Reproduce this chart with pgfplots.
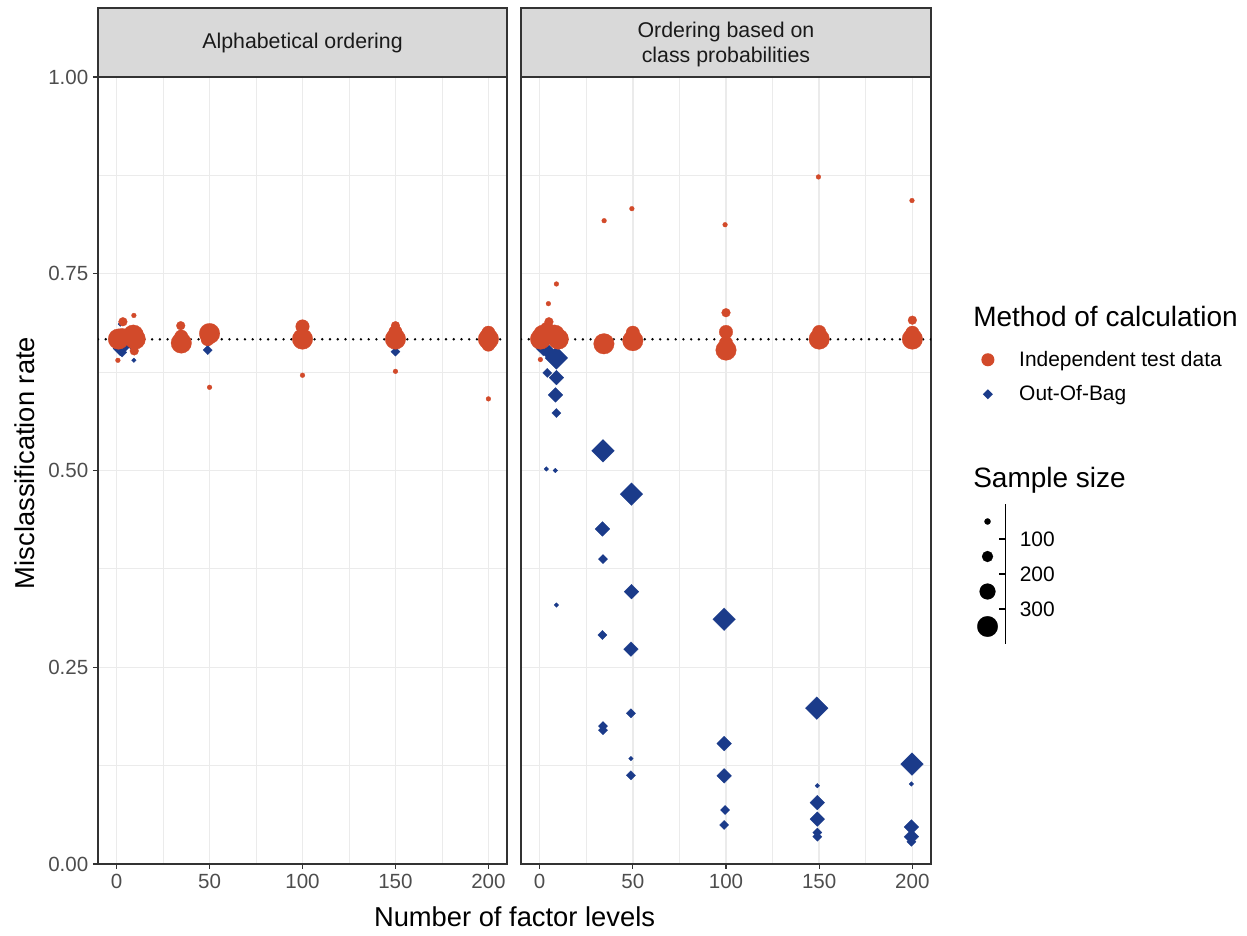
\documentclass[border=0pt]{standalone}
\usepackage{fontspec}
\setmainfont{Liberation Sans}
\usepackage{pgfplots}
\usepackage{pgfplotstable}
\pgfplotsset{compat=1.18}

\definecolor{ored}{RGB}{210,74,42}
\definecolor{oblue}{RGB}{27,59,138}
\definecolor{gridc}{RGB}{235,235,235}
\definecolor{axc}{RGB}{51,51,51}
\definecolor{tickc}{RGB}{77,77,77}
\definecolor{stripc}{RGB}{217,217,217}

% x = number of factor levels, y = misclassification rate, n = sample size
\pgfplotstableread{
x y n
0 0.667 205
2 0.655 205
3 0.650 105
5 0.658 105
6 0.663 105
8 0.659 105
9.3 0.640 22
2 0.686 22
34.5 0.676 22
49 0.653 105
49 0.660 22
100 0.663 22
150 0.651 105
200 0.664 22
}\alphaOOB

\pgfplotstableread{
x y n
1 0.667 350
3 0.672 205
3.4 0.689 105
9 0.672 350
10 0.667 350
9.3 0.697 22
0.7 0.640 22
9.5 0.652 105
34.8 0.662 350
34.8 0.670 205
34.5 0.684 105
50 0.674 350
49 0.667 205
50 0.6057 22
100 0.683 205
100 0.672 205
100 0.667 350
100 0.621 22
150 0.684 105
150 0.676 205
150 0.667 350
150 0.626 22
200 0.667 350
200 0.675 205
200 0.660 205
200 0.591 22
}\alphaTest

\pgfplotstableread{
x y n
0 0.660 205
2 0.655 205
5 0.650 205
3 0.665 105
9 0.643 350
4.1 0.624 105
9 0.618 205
8.5 0.596 205
9 0.573 105
3.6 0.502 22
8.4 0.500 22
9 0.329 22
34 0.525 350
33.7 0.4257 205
34 0.3875 105
33.7 0.291 105
34 0.1753 105
34 0.170 105
49.3 0.470 350
49.3 0.346 205
49 0.273 205
49 0.1915 105
49 0.134 22
49 0.1127 105
99 0.311 350
99 0.153 205
99 0.112 205
99.5 0.0686 105
99 0.0496 105
148.7 0.198 350
149 0.0995 22
149 0.078 205
149 0.057 205
149 0.040 105
149 0.0347 105
199.8 0.127 350
199.5 0.1017 22
199.5 0.047 205
199.5 0.0347 205
199.5 0.0283 105
}\probOOB

\pgfplotstableread{
x y n
0.5 0.667 350
2 0.672 350
8 0.672 350
10 0.667 350
4 0.680 205
5 0.689 105
4.7 0.712 22
9 0.737 22
0.4 0.641 22
34.5 0.661 350
34.6 0.8174 22
50 0.665 350
50 0.675 205
49.5 0.8327 22
100 0.653 350
100 0.662 205
100 0.676 205
100 0.7005 105
99.5 0.8123 22
150 0.667 350
150 0.676 205
149.6 0.873 22
200 0.667 350
200 0.675 205
200 0.691 105
199.8 0.843 22
}\probTest

\pgfplotstableread{
x y n
0.49 50 50
0.49 150 150
0.49 250 250
0.49 350 350
}\sizekeys

\pgfplotsset{
  redpts/.style={scatter, only marks, mark=*, ored,
    scatter/use mapped color={draw=ored, fill=ored},
    mark options={line width=0.2pt},
    visualization depends on={1.4+0.018*\thisrow{n} \as \msize},
    scatter/@pre marker code/.append style={/tikz/mark size=\msize}},
  bluepts/.style={scatter, only marks, mark=square*, oblue,
    scatter/use mapped color={draw=oblue, fill=oblue},
    mark options={rotate=45, line width=0.2pt},
    visualization depends on={0.9+0.0146*\thisrow{n} \as \msize},
    scatter/@pre marker code/.append style={/tikz/mark size=\msize}},
  blackpts/.style={scatter, only marks, mark=*, black,
    scatter/use mapped color={draw=black, fill=black},
    mark options={line width=0.2pt},
    visualization depends on={1.4+0.018*\thisrow{n} \as \msize},
    scatter/@pre marker code/.append style={/tikz/mark size=\msize}},
  refline/.style={black, line width=2pt, line cap=round, dash pattern=on 0pt off 5.8pt, forget plot},
  panel/.style={
    scale only axis, height=590.25pt,
    xmin=-10, xmax=210, ymin=0, ymax=1,
    xtick={0,50,100,150,200}, minor xtick={25,75,125,175},
    ytick={0,0.25,0.5,0.75,1}, minor ytick={0.125,0.375,0.625,0.875},
    xmajorgrids, ymajorgrids, xminorgrids, yminorgrids,
    major grid style={draw=gridc, line width=1.1pt},
    minor grid style={draw=gridc, line width=0.6pt},
    axis line style={draw=axc, line width=1.1pt},
    tick align=outside, tick pos=left,
    major tick length=3.75pt, minor tick length=0pt,
    tick style={draw=axc, line width=0.8pt},
    tick label style={font=\fontsize{15.4}{18}\selectfont, text=tickc},
    /pgf/number format/assume math mode=true,
    yticklabel style={/pgf/number format/.cd, fixed, fixed zerofill, precision=2},
  },
}

\begin{document}
\begin{tikzpicture}
\path (0pt,0pt) rectangle (935.25pt,702pt);

% Left panel
\begin{axis}[panel, at={(73.5pt,54pt)}, anchor=south west, width=306.75pt]
\addplot[bluepts] table[x=x,y=y,meta=n] {\alphaOOB};
\addplot[redpts] table[x=x,y=y,meta=n] {\alphaTest};
\addplot[refline] coordinates {(-10,0.6667) (210,0.6667)};
\end{axis}

% Right panel
\begin{axis}[panel, at={(390.75pt,54pt)}, anchor=south west, width=307.5pt,
  ymajorticks=false, yminorticks=false,
  legend style={at={(1.116,0.655)}, anchor=north west, draw=none, fill=none,
    inner sep=0pt, outer sep=0pt, font=\fontsize{15.7}{19}\selectfont,
    cells={anchor=west}, row sep=9pt},
  reverse legend]
\addplot[bluepts, legend image code/.code={\path[draw=none, fill=none] (-7pt,-5pt) rectangle (21.5pt,5pt); \fill[oblue, draw=none, rotate=45] (-2.65pt,-2.65pt) rectangle (2.65pt,2.65pt);}] table[x=x,y=y,meta=n] {\probOOB};
\addlegendentry{Out-Of-Bag}
\addplot[redpts, legend image code/.code={\path[draw=none, fill=none] (-7pt,-5pt) rectangle (21.5pt,5pt); \fill[ored, draw=none] (0pt,0pt) circle (4.9pt);}] table[x=x,y=y,meta=n] {\probTest};
\addlegendentry{Independent test data}
\addplot[refline] coordinates {(-10,0.6667) (210,0.6667)};
\end{axis}

% Size guide
\begin{axis}[at={(727.5pt,219pt)}, anchor=south west, scale only axis,
  width=26.8pt, height=105pt, xmin=0, xmax=1, ymin=0, ymax=400, y dir=reverse,
  axis x line=none, axis y line*=right,
  y axis line style={draw=black, line width=1pt},
  ytick={100,200,300}, tick align=inside, major tick length=4.7pt,
  tick style={draw=black, line width=1pt},
  yticklabel style={font=\fontsize{15.7}{19}\selectfont, text=black, xshift=7pt},
  /pgf/number format/assume math mode=true, clip=false]
\addplot[blackpts] table[x=x,y=y,meta=n] {\sizekeys};
\end{axis}

% Strips
\draw[fill=stripc, draw=axc, line width=1.1pt] (73.5pt,644.25pt) rectangle (380.25pt,696pt);
\draw[fill=stripc, draw=axc, line width=1.1pt] (390.75pt,644.25pt) rectangle (698.25pt,696pt);
\node[font=\fontsize{16}{19}\selectfont, text={rgb,255:red,26;green,26;blue,26}] at (226.9pt,669.75pt) {Alphabetical ordering};
\node[font=\fontsize{16}{19}\selectfont, text={rgb,255:red,26;green,26;blue,26}, align=center] at (544.5pt,668.5pt) {Ordering based on\\class probabilities};

% Axis titles
\node[font=\fontsize{20.5}{24}\selectfont, rotate=90] at (18.75pt,354.75pt) {Misclassification rate};
\node[font=\fontsize{20.5}{24}\selectfont] at (385.9pt,14.25pt) {Number of factor levels};

% Legend titles
\node[font=\fontsize{21}{25}\selectfont, anchor=west, inner sep=0pt] at (729.75pt,465pt) {Method of calculation};
\node[font=\fontsize{21}{25}\selectfont, anchor=west, inner sep=0pt] at (729.75pt,342pt) {Sample size};
\end{tikzpicture}
\end{document}
